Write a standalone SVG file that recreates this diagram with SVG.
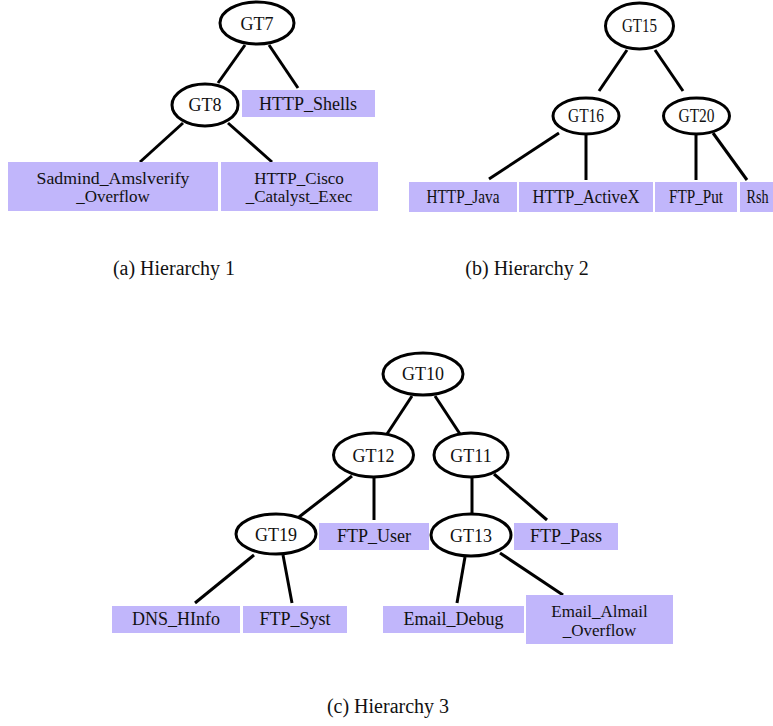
<svg xmlns="http://www.w3.org/2000/svg" width="773" height="726" viewBox="0 0 773 726">
  <style>
    .edge { stroke: #000; stroke-width: 3; fill: none; }
    .node ellipse { fill: #fff; stroke: #000; stroke-width: 3; }
    .leaf rect { fill: #c1b6fb; stroke: none; }
    text { font-family: "Liberation Serif", "Times New Roman", serif; font-size: 18px; fill: #111; text-anchor: middle; }
    .two { font-size: 17px; }
    .cap { font-size: 20px; }
  </style>
  <rect width="773" height="726" fill="#fff"/>

  <!-- Hierarchy 1 -->
  <g id="edges-h1">
    <line class="edge" x1="245" y1="45" x2="218" y2="83"/>
    <line class="edge" x1="269" y1="45" x2="298" y2="88"/>
    <line class="edge" x1="183" y1="123" x2="140" y2="162"/>
    <line class="edge" x1="228" y1="123" x2="272" y2="162"/>
  </g>
  <g id="GT7" class="node"><ellipse cx="257" cy="23" rx="37" ry="21"/><text x="257" y="30">GT7</text></g>
  <g id="GT8" class="node"><ellipse cx="205" cy="105" rx="33" ry="21"/><text x="205" y="111">GT8</text></g>
  <g id="HTTP_Shells" class="leaf"><rect x="242" y="90" width="133" height="27"/><text x="308" y="110">HTTP_Shells</text></g>
  <g id="Sadmind_Amslverify_Overflow" class="leaf"><rect x="8" y="162" width="210" height="49"/><text class="two" x="113" y="184" textLength="153" lengthAdjust="spacingAndGlyphs">Sadmind_Amslverify</text><text class="two" x="113" y="202">_Overflow</text></g>
  <g id="HTTP_Cisco_Catalyst_Exec" class="leaf"><rect x="221" y="162" width="157" height="49"/><text class="two" x="299" y="184">HTTP_Cisco</text><text class="two" x="299" y="202">_Catalyst_Exec</text></g>
  <text class="cap" x="174" y="275">(a) Hierarchy 1</text>

  <!-- Hierarchy 2 -->
  <g id="edges-h2">
    <line class="edge" x1="627" y1="50" x2="599" y2="91"/>
    <line class="edge" x1="655" y1="50" x2="683" y2="91"/>
    <line class="edge" x1="559" y1="133" x2="489" y2="179"/>
    <line class="edge" x1="586" y1="135" x2="586" y2="180"/>
    <line class="edge" x1="696" y1="135" x2="696" y2="180"/>
    <line class="edge" x1="713" y1="133" x2="747" y2="180"/>
  </g>
  <g id="GT15" class="node"><ellipse cx="639.5" cy="26" rx="34" ry="23"/><text x="639.5" y="32" textLength="35" lengthAdjust="spacingAndGlyphs">GT15</text></g>
  <g id="GT16" class="node"><ellipse cx="586" cy="116" rx="33" ry="18"/><text x="586" y="122" textLength="36" lengthAdjust="spacingAndGlyphs">GT16</text></g>
  <g id="GT20" class="node"><ellipse cx="696.5" cy="116" rx="33" ry="18"/><text x="696.5" y="122" textLength="36" lengthAdjust="spacingAndGlyphs">GT20</text></g>
  <g id="HTTP_Java" class="leaf"><rect x="409" y="182" width="108" height="30"/><text x="463" y="203" textLength="73" lengthAdjust="spacingAndGlyphs">HTTP_Java</text></g>
  <g id="HTTP_ActiveX" class="leaf"><rect x="519" y="182" width="134" height="30"/><text x="586" y="203" textLength="107" lengthAdjust="spacingAndGlyphs">HTTP_ActiveX</text></g>
  <g id="FTP_Put" class="leaf"><rect x="655" y="182" width="82" height="30"/><text x="696" y="203" textLength="54" lengthAdjust="spacingAndGlyphs">FTP_Put</text></g>
  <g id="Rsh" class="leaf"><rect x="740" y="182" width="33" height="30"/><text x="757.5" y="203" textLength="22" lengthAdjust="spacingAndGlyphs">Rsh</text></g>
  <text class="cap" x="527" y="275">(b) Hierarchy 2</text>

  <!-- Hierarchy 3 -->
  <g id="edges-h3">
    <line class="edge" x1="412" y1="396" x2="387" y2="434"/>
    <line class="edge" x1="435" y1="396" x2="460" y2="434"/>
    <line class="edge" x1="352" y1="476" x2="299" y2="517"/>
    <line class="edge" x1="374" y1="477" x2="374" y2="520"/>
    <line class="edge" x1="472" y1="477" x2="472" y2="515"/>
    <line class="edge" x1="494" y1="474" x2="547" y2="520"/>
    <line class="edge" x1="254" y1="555" x2="195" y2="603"/>
    <line class="edge" x1="283" y1="555" x2="292" y2="603"/>
    <line class="edge" x1="465" y1="557" x2="457" y2="603"/>
    <line class="edge" x1="500" y1="553" x2="563" y2="595"/>
  </g>
  <g id="GT10" class="node"><ellipse cx="423" cy="374" rx="40" ry="21"/><text x="423" y="380">GT10</text></g>
  <g id="GT12" class="node"><ellipse cx="373.5" cy="455" rx="40" ry="22"/><text x="373.5" y="462">GT12</text></g>
  <g id="GT11" class="node"><ellipse cx="471" cy="455" rx="37" ry="22"/><text x="471" y="462">GT11</text></g>
  <g id="GT19" class="node"><ellipse cx="276" cy="534" rx="40" ry="20"/><text x="276" y="541">GT19</text></g>
  <g id="FTP_User" class="leaf"><rect x="319" y="523" width="110" height="27"/><text x="374" y="542">FTP_User</text></g>
  <g id="GT13" class="node"><ellipse cx="471" cy="535" rx="40" ry="21"/><text x="471" y="542">GT13</text></g>
  <g id="FTP_Pass" class="leaf"><rect x="514" y="523" width="104" height="27"/><text x="566" y="542">FTP_Pass</text></g>
  <g id="DNS_HInfo" class="leaf"><rect x="112" y="606" width="128" height="27"/><text x="176" y="625">DNS_HInfo</text></g>
  <g id="FTP_Syst" class="leaf"><rect x="243" y="606" width="104" height="27"/><text x="295" y="625">FTP_Syst</text></g>
  <g id="Email_Debug" class="leaf"><rect x="383" y="606" width="141" height="27"/><text x="453.5" y="625">Email_Debug</text></g>
  <g id="Email_Almail_Overflow" class="leaf"><rect x="526" y="595" width="147" height="49"/><text class="two" x="599.5" y="617">Email_Almail</text><text class="two" x="599.5" y="636">_Overflow</text></g>
  <text class="cap" x="388" y="713">(c) Hierarchy 3</text>
</svg>
